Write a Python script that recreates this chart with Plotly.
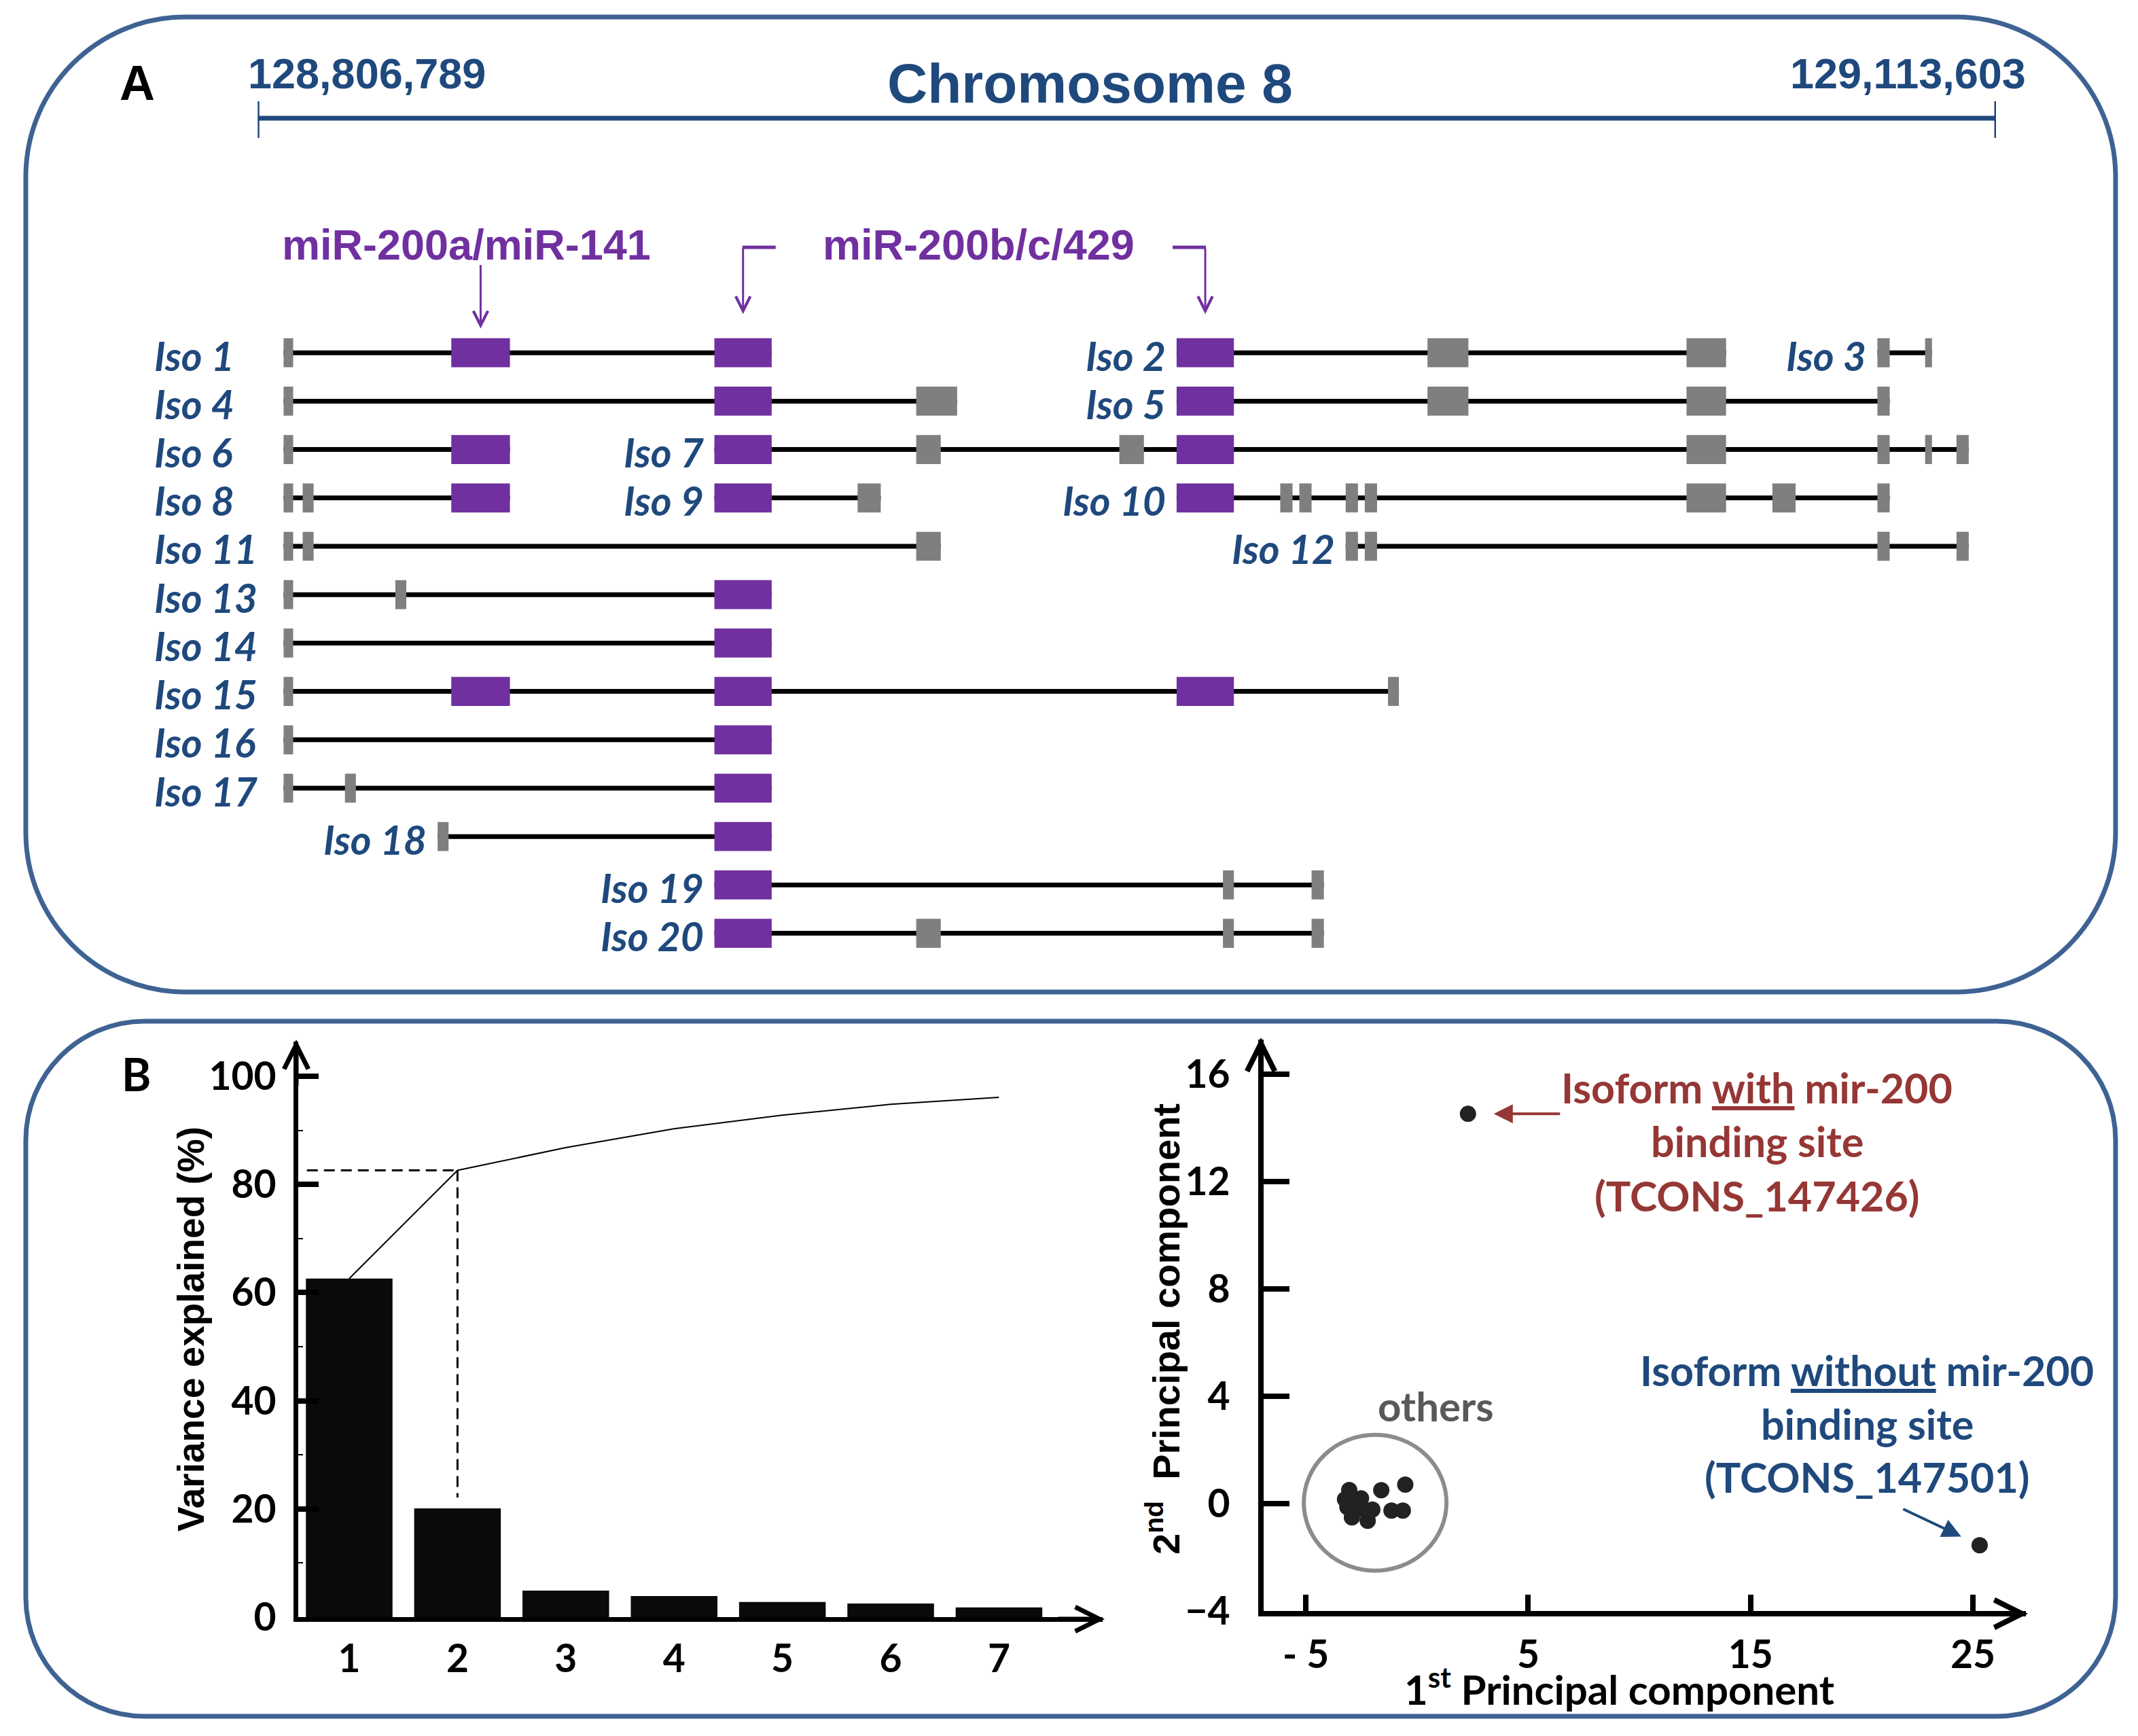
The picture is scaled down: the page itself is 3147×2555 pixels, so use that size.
import plotly.graph_objects as go

# ---------------- data ----------------
REGION_START = 128806789
REGION_END = 129113603
CHROM_LABEL = "Chromosome 8"
REGION_LEN_KB = (REGION_END - REGION_START) / 1000.0

iso_names = [f"Iso {i}" for i in range(1, 21)]
iso_rows = [1, 1, 1, 2, 2, 3, 3, 4, 4, 4, 5, 5, 6, 7, 8, 9, 10, 11, 12, 13]

# exon coordinates in kb from REGION_START
iso_exon_starts = [
    [4.57, 34.17, 80.61],
    [162.19, 206.47, 252.19],
    [285.88, 294.30],
    [4.57, 80.61, 116.23],
    [162.19, 206.47, 252.19, 285.88],
    [4.57, 34.17],
    [80.61, 116.23, 152.08, 162.19, 252.19, 285.88, 294.30, 299.84],
    [4.57, 7.94, 34.17],
    [80.61, 105.88],
    [162.19, 180.48, 183.85, 192.03, 195.40, 252.19, 267.35, 285.88],
    [4.57, 7.94, 116.23],
    [192.03, 195.40, 285.88, 299.84],
    [4.57, 24.30, 80.61],
    [4.57, 80.61],
    [4.57, 34.17, 80.61, 162.19, 199.49],
    [4.57, 80.61],
    [4.57, 15.40, 80.61],
    [31.76, 80.61],
    [80.61, 170.37, 186.01],
    [80.61, 116.23, 170.37, 186.01],
]
iso_exon_ends = [
    [6.26, 44.52, 90.72],
    [172.30, 213.69, 259.17],
    [288.05, 295.51],
    [6.26, 90.72, 123.45],
    [172.30, 213.69, 259.17, 288.05],
    [6.26, 44.52],
    [90.72, 120.56, 156.42, 172.30, 259.17, 288.05, 295.51, 302.00],
    [6.26, 9.87, 44.52],
    [90.72, 109.97],
    [172.30, 182.65, 186.01, 194.20, 197.57, 259.17, 271.44, 288.05],
    [6.26, 9.87, 120.56],
    [194.20, 197.57, 288.05, 302.00],
    [6.26, 26.23, 90.72],
    [6.26, 90.72],
    [6.26, 44.52, 90.72, 172.30, 201.42],
    [6.26, 90.72],
    [6.26, 17.33, 90.72],
    [33.69, 90.72],
    [90.72, 172.30, 188.18],
    [90.72, 120.56, 172.30, 188.18],
]
mir_exon_starts = [34.17, 80.61, 162.19]
mir_exon_ends = [44.52, 90.72, 172.30]
mir_labels = ["miR-200a/miR-141", "miR-200b/c/429"]

pc_index = [1, 2, 3, 4, 5, 6, 7]
variance_pct = [62.6, 20.1, 4.9, 3.9, 2.8, 2.5, 1.8]
cumulative_pct = [62.6, 82.6, 86.8, 90.3, 92.8, 94.8, 96.1]
bar_yticks = [0, 20, 40, 60, 80, 100]

pc1_others = [-3.05, -2.52, -3.13, -2.93, -2.22, -2.01, -1.61, -0.53, -1.15, -0.64, -2.52, -3.24, -2.73]
pc2_others = [0.51, 0.20, -0.13, -0.51, -0.64, -0.22, 0.50, 0.71, -0.26, -0.26, -0.18, 0.16, 0.00]
pc1_with = 2.29
pc2_with = 14.53
pc1_without = 25.3
pc2_without = -1.55
sc_xticks = [-5, 5, 15, 25]
sc_xticktext = ["- 5", "5", "15", "25"]
sc_yticks = [-4, 0, 4, 8, 12, 16]
label_with = ["Isoform <u>with</u> mir-200", "binding site", "(TCONS_147426)"]
label_without = ["Isoform <u>without</u> mir-200", "binding site", "(TCONS_147501)"]

# ---------------- style ----------------
W, H = 3147, 2555
NAVY = "#1F497D"
PURPLE = "#7030A0"
GREY = "#7F7F7F"
BORDER = "#3E6393"
DARKRED = "#953735"
ARIAL = "Liberation Sans"
CALIBRI = "Lato"


def px(x):
    return x / W


def py(y):
    return 1 - y / H


def rounded_rect(l, t, r, b, rad):
    k = 0.5523 * rad
    pts = [
        ("M", [(l + rad, t)]),
        ("L", [(r - rad, t)]),
        ("C", [(r - rad + k, t), (r, t + rad - k), (r, t + rad)]),
        ("L", [(r, b - rad)]),
        ("C", [(r, b - rad + k), (r - rad + k, b), (r - rad, b)]),
        ("L", [(l + rad, b)]),
        ("C", [(l + rad - k, b), (l, b - rad + k), (l, b - rad)]),
        ("L", [(l, t + rad)]),
        ("C", [(l, t + rad - k), (l + rad - k, t), (l + rad, t)]),
    ]
    s = ""
    for cmd, pp in pts:
        s += cmd + " ".join(f"{px(a):.5f},{py(b_):.5f}" for a, b_ in pp) + " "
    return s + "Z"


fig = go.Figure()
shapes = []
ann = []


def add_ann(**kw):
    kw.setdefault("xanchor", "center")
    kw.setdefault("yanchor", "middle")
    ann.append(kw)


# panel borders
shapes.append(dict(type="path", xref="paper", yref="paper", path=rounded_rect(38, 25, 3114, 1460, 235),
                   line=dict(color=BORDER, width=7), layer="below"))
shapes.append(dict(type="path", xref="paper", yref="paper", path=rounded_rect(38, 1503, 3114, 2526, 175),
                   line=dict(color=BORDER, width=7), layer="below"))

# ---------------- Panel A ----------------
intron_x, intron_y = [], []
for i, name in enumerate(iso_names):
    st, en, row = iso_exon_starts[i], iso_exon_ends[i], iso_rows[i]
    intron_x += [min(st), max(en), None]
    intron_y += [row, row, None]
fig.add_trace(go.Scatter(x=intron_x, y=intron_y, mode="lines", line=dict(color="black", width=7),
                         hoverinfo="skip", xaxis="x", yaxis="y"))

gene_first = min(min(s) for s in iso_exon_starts)
isofont = dict(family=CALIBRI, size=59, color=NAVY, weight="bold", style="italic")
for i, name in enumerate(iso_names):
    st, en, row = iso_exon_starts[i], iso_exon_ends[i], iso_rows[i]
    for s0, e0 in zip(st, en):
        col = PURPLE if s0 in mir_exon_starts else GREY
        shapes.append(dict(type="rect", xref="x", yref="y", x0=s0, x1=e0, y0=row - 0.3, y1=row + 0.3,
                           fillcolor=col, line=dict(width=0), layer="above"))
    first = min(st)
    if first == gene_first:
        add_ann(xref="x", yref="y", x=first, y=row, text=name, showarrow=False, xanchor="left",
                xshift=-192, yshift=-4, font=isofont)
    else:
        add_ann(xref="x", yref="y", x=first, y=row, text=name, showarrow=False, xanchor="right",
                xshift=-14, yshift=-4, font=isofont)

# chromosome ruler
shapes.append(dict(type="line", xref="x", yref="paper", x0=0, x1=REGION_LEN_KB, y0=py(174), y1=py(174),
                   line=dict(color=NAVY, width=7)))
for xv in [0, REGION_LEN_KB]:
    shapes.append(dict(type="line", xref="x", yref="paper", x0=xv, x1=xv, y0=py(149), y1=py(203),
                       line=dict(color=NAVY, width=5)))
add_ann(xref="x", yref="paper", x=0, y=py(108), text=f"<b>{REGION_START:,}</b>", showarrow=False,
        xanchor="left", xshift=-16, font=dict(family=ARIAL, size=63, color=NAVY))
add_ann(xref="x", yref="paper", x=REGION_LEN_KB, y=py(108), text=f"<b>{REGION_END:,}</b>",
        showarrow=False, xanchor="right", xshift=46, font=dict(family=ARIAL, size=63, color=NAVY))
add_ann(xref="paper", yref="paper", x=px(1604), y=py(122), text=f"<b>{CHROM_LABEL}</b>",
        showarrow=False, font=dict(family=ARIAL, size=82, color=NAVY))
add_ann(xref="paper", yref="paper", x=px(202), y=py(122), text="<b>A</b>", showarrow=False,
        font=dict(family=ARIAL, size=72, color="black"))

# miRNA labels and arrows
add_ann(xref="paper", yref="paper", x=px(686), y=py(360), text=f"<b>{mir_labels[0]}</b>",
        showarrow=False, font=dict(family=ARIAL, size=63, color=PURPLE))
add_ann(xref="paper", yref="paper", x=px(1440), y=py(360), text=f"<b>{mir_labels[1]}</b>",
        showarrow=False, font=dict(family=ARIAL, size=63, color=PURPLE))
mc = [(a + b) / 2 for a, b in zip(mir_exon_starts, mir_exon_ends)]
arrow_common = dict(xref="x", yref="y", text="", showarrow=True, arrowhead=5, arrowsize=1.4,
                    arrowwidth=3, arrowcolor=PURPLE, axref="pixel", ayref="pixel", ax=0)
add_ann(x=mc[0], y=0.5, ay=-95, **arrow_common)
add_ann(x=mc[1], y=0.2, ay=-98, **arrow_common)
add_ann(x=mc[2], y=0.2, ay=-98, **arrow_common)
shapes.append(dict(type="line", xref="x", yref="paper", xsizemode="pixel", xanchor=mc[1], x0=-1, x1=48,
                   y0=py(364), y1=py(364), line=dict(color=PURPLE, width=5)))
shapes.append(dict(type="line", xref="x", yref="paper", xsizemode="pixel", xanchor=mc[2], x0=-48, x1=1,
                   y0=py(364), y1=py(364), line=dict(color=PURPLE, width=5)))

# ---------------- Panel B left: scree plot ----------------
fig.add_trace(go.Bar(x=pc_index, y=variance_pct, width=0.8, marker=dict(color="#0A0A0A", line=dict(width=0)),
                     hoverinfo="skip", xaxis="x2", yaxis="y2"))
fig.add_trace(go.Scatter(x=pc_index, y=cumulative_pct, mode="lines", line=dict(color="black", width=2),
                         hoverinfo="skip", xaxis="x2", yaxis="y2"))
bx_range = [0.5295, 7.957]
fig.add_trace(go.Scatter(x=[bx_range[0] + 0.08, pc_index[1]], y=[cumulative_pct[1]] * 2, mode="lines",
                         line=dict(color="black", width=3, dash="16px,9px"), hoverinfo="skip",
                         xaxis="x2", yaxis="y2"))
fig.add_trace(go.Scatter(x=[pc_index[1]] * 2, y=[cumulative_pct[1], variance_pct[1] + 2], mode="lines",
                         line=dict(color="black", width=3, dash="16px,9px"), hoverinfo="skip",
                         xaxis="x2", yaxis="y2"))

# ---------------- Panel B right: PCA scatter ----------------
fig.add_trace(go.Scatter(x=pc1_others + [pc1_with, pc1_without], y=pc2_others + [pc2_with, pc2_without],
                         mode="markers", marker=dict(color="#222222", size=24, line=dict(width=0)),
                         hoverinfo="skip", xaxis="x3", yaxis="y3"))
cx = (min(pc1_others) + max(pc1_others)) / 2
cy = (min(pc2_others) + max(pc2_others)) / 2
shapes.append(dict(type="circle", xref="x3", yref="y3", xsizemode="pixel", ysizemode="pixel",
                   xanchor=cx, yanchor=cy, x0=-105, x1=105, y0=-100, y1=100,
                   line=dict(color="#8C8C8C", width=6)))

add_ann(xref="x3", yref="y3", x=pc1_with, y=pc2_with, text="", showarrow=True, arrowhead=2,
        arrowsize=1.4, arrowwidth=4, arrowcolor=DARKRED, axref="pixel", ayref="pixel",
        ax=137, ay=0, standoff=38)
add_ann(xref="x3", yref="y3", x=pc1_without, y=pc2_without, text="", showarrow=True, arrowhead=2,
        arrowsize=1.4, arrowwidth=4, arrowcolor=NAVY, axref="pixel", ayref="pixel",
        ax=-114, ay=-54, standoff=30)
for j, line in enumerate(label_with):
    add_ann(xref="paper", yref="paper", x=px(2586), y=py(1600 + 79.5 * j), text=f"<b>{line}</b>",
            showarrow=False, font=dict(family=CALIBRI, size=61, color=DARKRED))
for j, line in enumerate(label_without):
    add_ann(xref="paper", yref="paper", x=px(2748), y=py(2017 + 78 * j), text=f"<b>{line}</b>",
            showarrow=False, font=dict(family=CALIBRI, size=61, color=NAVY))
add_ann(xref="paper", yref="paper", x=px(2113), y=py(2069), text="<b>others</b>", showarrow=False,
        font=dict(family=CALIBRI, size=60, color="#595959"))

# axis titles and panel letter
add_ann(xref="paper", yref="paper", x=px(281), y=py(1956), text="<b>Variance explained (%)</b>",
        textangle=-90, showarrow=False, font=dict(family=ARIAL, size=55, color="black"))
add_ann(xref="paper", yref="paper", x=px(1712), y=py(1956), text="<b>2<sup>nd</sup>  Principal component</b>",
        textangle=-90, showarrow=False, font=dict(family=ARIAL, size=56, color="black"))
add_ann(xref="paper", yref="paper", x=px(2383), y=py(2482), text="<b>1<sup>st</sup> Principal component</b>",
        showarrow=False, font=dict(family=CALIBRI, size=60, color="black"))
add_ann(xref="paper", yref="paper", x=px(200), y=py(1580), text="<b>B</b>", showarrow=False,
        font=dict(family=CALIBRI, size=66, color="black"))

# axis arrowheads
ah = dict(xref="paper", yref="paper", text="", showarrow=True, arrowhead=5, arrowsize=1.0,
          arrowcolor="black", axref="pixel", ayref="pixel")
add_ann(x=px(436), y=py(1530), ax=0, ay=70, arrowwidth=7, **ah)
add_ann(x=px(1626), y=py(2383), ax=-70, ay=0, arrowwidth=7, **ah)
add_ann(x=px(1856), y=py(1527), ax=0, ay=70, arrowwidth=8, **ah)
add_ann(x=px(2985), y=py(2375), ax=-70, ay=0, arrowwidth=8, **ah)

tickfont = dict(family=CALIBRI, size=57, color="black", weight="bold")
fig.update_layout(
    width=W, height=H, autosize=False, margin=dict(l=0, r=0, t=0, b=0, pad=0),
    paper_bgcolor="white", plot_bgcolor="rgba(0,0,0,0)", showlegend=False,
    xaxis=dict(domain=[px(379.3), px(2938)], range=[0, REGION_LEN_KB], visible=False, fixedrange=True,
               automargin=False),
    yaxis=dict(domain=[py(1444.8), py(448)], range=[14, 0], visible=False, fixedrange=True,
               automargin=False),
    xaxis2=dict(domain=[px(439), px(1623)], range=bx_range, anchor="y2", showline=True, linewidth=7,
                linecolor="black", showgrid=False, zeroline=False, ticks="", tickmode="array",
                tickvals=pc_index, tickfont=tickfont, ticklabelstandoff=6, automargin=False),
    yaxis2=dict(domain=[py(2380), py(1533)], range=[0, 106.4], anchor="x2", showline=True, linewidth=7,
                linecolor="black", showgrid=False, zeroline=False, ticks="inside", ticklen=30, tickwidth=8,
                tickcolor="black", tickmode="array", tickvals=bar_yticks, tickfont=tickfont,
                ticklabelstandoff=14, automargin=False,
                minor=dict(ticks="inside", ticklen=7, tickwidth=2, tickcolor="black", dtick=10)),
    xaxis3=dict(domain=[px(1860), px(2982)], range=[-6.899, 27.38], anchor="y3", showline=True, linewidth=8,
                linecolor="black", showgrid=False, zeroline=False, ticks="inside", ticklen=24, tickwidth=8,
                tickcolor="black", tickmode="array", tickvals=sc_xticks, ticktext=sc_xticktext,
                tickfont=tickfont, ticklabelstandoff=8, automargin=False),
    yaxis3=dict(domain=[py(2371), py(1530)], range=[-4, 17.30], anchor="x3", showline=True, linewidth=8,
                linecolor="black", showgrid=False, zeroline=False, ticks="inside", ticklen=38, tickwidth=8,
                tickcolor="black", tickmode="array", tickvals=sc_yticks, tickfont=tickfont,
                ticklabelstandoff=30, automargin=False),
    shapes=shapes, annotations=ann,
)

fig.write_html("out.html", config=dict(displayModeBar=False, staticPlot=True),
               post_script="document.body.style.margin='0px';document.body.style.overflow='hidden';")
